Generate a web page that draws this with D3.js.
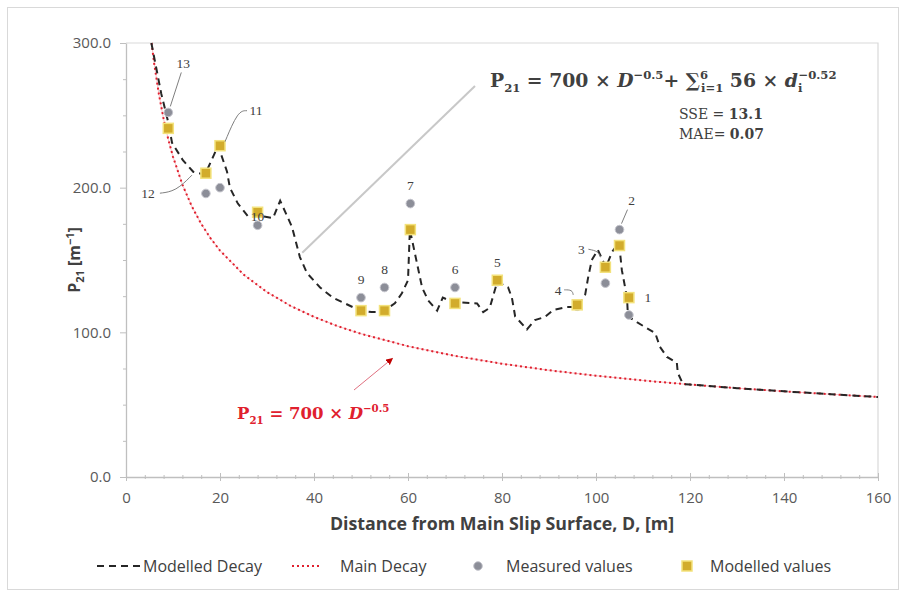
<!DOCTYPE html>
<html><head><meta charset="utf-8">
<script src="https://cdn.jsdelivr.net/npm/d3@7"></script>
<style>body{margin:0;background:#fff}svg{display:block}</style>
</head><body><svg id="c" width="907" height="592"></svg>
<script>
// ---- data ----
const pointIds = [13, 12, 11, 10, 9, 8, 7, 6, 5, 4, 3, 2, 1];
const pointD   = [9, 17, 20, 28, 50, 55, 60.5, 70, 79, 96, 102, 105, 107];
const measured = [252, 196, 200, 174, 124, 131, 189, 131, 135, 118, 134, 171, 112];
const modelled = [241, 210, 229, 183, 115, 115, 171, 120, 136, 119, 145, 160, 124];

// Modelled decay (dashed)
const decayD = [5.4, 7.5, 9, 9.8, 12.1, 14.3, 16.8, 19.6, 21.5, 22.1, 23.8, 26, 27.9, 31.3, 32.8, 35.3, 37, 38.5, 41.3, 44, 46.6, 49.8, 52.3, 54.5, 57.2, 58.7, 60, 60.4, 63, 64.3, 66.2, 67.4, 69.6, 74.7, 76, 77.4, 79, 81.3, 82.1, 82.8, 85.3, 87, 89.1, 90.9, 93.8, 96, 97.7, 98.3, 99.1, 100.4, 102.1, 103.4, 104.9, 105.5, 106.6, 106.8, 108.7, 110.4, 112.6, 113.6, 115.1, 117.2, 117.4, 118.5, 120, 130, 140, 150, 160];
const decayV = [300, 265, 245, 231, 219, 211, 209, 229, 211, 200, 189, 180, 181, 179, 191, 173, 152, 141, 131, 124, 120, 115, 114, 114, 120, 127, 136, 171, 131, 122, 115, 124, 121, 120, 114, 117, 135, 131, 124, 111, 102, 108.5, 110.6, 115.4, 117.5, 117.5, 126, 137.5, 150, 157, 145, 155.5, 162, 143, 124, 111, 107, 103.7, 99.5, 90, 83, 79, 72, 64.3, 63.9, 61.4, 59.2, 57.2, 55.3];

// Main decay (red dotted)
const mainD = [5.44, 6, 7, 8, 9, 10, 12, 14, 16, 18, 20, 25, 30, 35, 40, 45, 50, 60, 70, 80, 90, 100, 110, 120, 130, 140, 150, 160];
const mainV = [300, 285.8, 264.6, 247.5, 233.3, 221.4, 202.1, 187.1, 175, 165, 156.5, 140, 127.8, 118.3, 110.7, 104.3, 99, 90.4, 83.7, 78.3, 73.8, 70, 66.7, 63.9, 61.4, 59.2, 57.2, 55.3];

const xTicks = [0, 20, 40, 60, 80, 100, 120, 140, 160];
const yTicks = [0, 100, 200, 300];
const xTitle = "Distance from Main Slip Surface, D, [m]";
const legendNames = ["Modelled Decay", "Main Decay", "Measured values", "Modelled values"];

// ---- drawing ----
const svg = d3.select("#c");
const x = d3.scaleLinear().domain([0, 160]).range([126, 878]);
const y = d3.scaleLinear().domain([0, 300]).range([477, 43]);
const txt = "#404040", sans = "'Open Sans', Lato, sans-serif", serif = "'DejaVu Serif', 'Liberation Serif', serif";

svg.append("rect").attr("x", 7.5).attr("y", 7.5).attr("width", 891).attr("height", 582)
  .attr("fill", "#fff").attr("stroke", "#d9d9d9");

// plot border (top/right)
svg.append("path").attr("d", `M${x(0)},${y(300)}H${x(160)}V${y(0)}`).attr("fill", "none").attr("stroke", "#d9d9d9").attr("stroke-width", 1.2);

// axes
const gx = svg.append("g").attr("transform", `translate(0,${y(0)})`)
  .call(d3.axisBottom(x).tickValues(xTicks).tickFormat(d3.format("d")).tickSizeInner(4).tickSizeOuter(0).tickPadding(11));
gx.selectAll(".tick line").attr("y1", -4);
const gxm = svg.append("g").attr("transform", `translate(0,${y(0)})`)
  .call(d3.axisBottom(x).tickValues(d3.range(0, 161, 4).filter(v => v % 20)).tickFormat("").tickSizeInner(2).tickSizeOuter(0));
gxm.selectAll(".tick line").attr("y1", -2);
gxm.select(".domain").remove();
const gy = svg.append("g").attr("transform", `translate(${x(0)},0)`)
  .call(d3.axisLeft(y).tickValues(yTicks).tickFormat(d3.format(".1f")).tickSizeInner(6).tickSizeOuter(0).tickPadding(9));
const gym = svg.append("g").attr("transform", `translate(${x(0)},0)`)
  .call(d3.axisLeft(y).tickValues(d3.range(25, 300, 25).filter(v => v % 100)).tickFormat("").tickSizeInner(3).tickSizeOuter(0));
gym.select(".domain").remove();
[gx, gxm, gy, gym].forEach(g => {
  g.selectAll(".domain").attr("stroke", "#bfbfbf").attr("stroke-width", 1.3);
  g.selectAll(".tick line").attr("stroke", "#bfbfbf");
  g.selectAll(".tick text").attr("fill", "#595959").attr("font-family", sans).attr("font-size", 15);
});

// axis titles
svg.append("text").attr("x", 502).attr("y", 530).attr("text-anchor", "middle")
  .attr("font-family", sans).attr("font-weight", "bold").attr("font-size", 17.8).attr("fill", txt).text(xTitle);
const yt = svg.append("text").attr("transform", `translate(80,${(y(0) + y(300)) / 2}) rotate(-90)`).attr("text-anchor", "middle")
  .attr("font-family", sans).attr("font-weight", "bold").attr("font-size", 16).attr("fill", txt);
yt.append("tspan").text("P");
yt.append("tspan").attr("dy", 4).attr("font-size", 11).text("21");
yt.append("tspan").attr("dy", -4).text(" [m");
yt.append("tspan").attr("dy", -6).attr("font-size", 11).text("−1");
yt.append("tspan").attr("dy", 6).text("]");

// lines
const line = d3.line().x(d => x(d[0])).y(d => y(d[1]));
svg.append("path").datum(d3.zip(mainD, mainV)).attr("d", line).attr("fill", "none")
  .attr("stroke", "#f8c0c6").attr("stroke-width", 1);
svg.append("path").datum(d3.zip(mainD, mainV)).attr("d", line).attr("fill", "none")
  .attr("stroke", "#e0202e").attr("stroke-width", 2).attr("stroke-dasharray", "2,3");
svg.append("path").datum(d3.zip(decayD, decayV)).attr("d", line).attr("fill", "none")
  .attr("stroke", "#262626").attr("stroke-width", 2).attr("stroke-dasharray", "7,5");

// markers
const pts = pointIds.map((id, i) => ({ id, d: pointD[i], m: measured[i], p: modelled[i] }));
svg.append("g").selectAll("circle").data(pts).join("circle")
  .attr("cx", d => x(d.d)).attr("cy", d => y(d.m)).attr("r", 4.3)
  .attr("fill", "#8c8e98").attr("stroke", "#c4c4cc").attr("stroke-width", 1);
svg.append("g").selectAll("rect").data(pts).join("rect")
  .attr("x", d => x(d.d) - 5).attr("y", d => y(d.p) - 5).attr("width", 10).attr("height", 10)
  .attr("fill", "#d2ac2c").attr("stroke", "#f3e27c").attr("stroke-width", 1.5);

// point labels (offsets in px from the upper marker)
const labelOff = { 13: [15, -49], 12: [-58, 20], 11: [36, -35], 10: [0, 4], 2: [12, -29], 1: [19, 0], 3: [-24, -18], 4: [-19, -15] };
const leaders = { 13: [[13, -40], [2, -6]], 12: [[-46, 20], [-30, 18], [-14, 2]], 11: [[27, -35], [18, -35], [5, -4]],
  2: [[8, -20], [2, -6]], 3: [[-17, -18], [-7, -16], [-5, -10]], 4: [[-13, -15], [-5, -15], [-4, -10]] };
const lab = svg.append("g");
pts.forEach(d => {
  const px = x(d.d), py = y(Math.max(d.m, d.p));
  const o = labelOff[d.id] || [0, -18];
  lab.append("text").attr("x", px + o[0]).attr("y", py + o[1]).attr("dy", "0.35em").attr("text-anchor", "middle")
    .attr("font-family", "'Liberation Serif', serif").attr("font-size", 13.5).attr("fill", "#404040").text(d.id);
  if (leaders[d.id]) {
    lab.append("path").attr("d", d3.line().curve(d3.curveBasis)(leaders[d.id].map(p => [px + p[0], py + p[1]])))
      .attr("fill", "none").attr("stroke", "#7f7f7f").attr("stroke-width", 1);
  }
});

// equation leader (gray)
svg.append("line").attr("x1", 475).attr("y1", 86).attr("x2", x(37.5)).attr("y2", y(155))
  .attr("stroke", "#c8c8c8").attr("stroke-width", 2);

function rich(g, xx, yy, segs, fs, color, bold) {
  const t = g.append("text").attr("x", xx).attr("y", yy).attr("font-family", serif).attr("font-size", fs)
    .attr("fill", color).attr("font-weight", bold ? "bold" : "normal");
  let cur = 0;
  segs.forEach(s => {
    const shift = s.sub ? fs * 0.28 : s.sup ? -fs * 0.42 : 0;
    const sp = t.append("tspan").attr("dy", shift - cur).text(s.t);
    if (s.sub || s.sup) sp.attr("font-size", fs * 0.62);
    if (s.it) sp.attr("font-style", "italic");
    if (s.dx) sp.attr("dx", s.dx);
    if (s.w) sp.attr("font-weight", s.w);
    cur = shift;
  });
  return t;
}
rich(svg, 490, 87, [
  { t: "P" }, { t: "21", sub: 1 }, { t: " = 700 × " }, { t: "D", it: 1 }, { t: "−0.5", sup: 1 }, { t: "+ " },
  { t: "∑" }, { t: "6", sup: 1 }, { t: "i=1", sub: 1, dx: -7 }, { t: " 56 × " }, { t: "d", it: 1 },
  { t: "i", sub: 1 }, { t: "−0.52", sup: 1, dx: -4 }
], 18.8, "#404040", true);
rich(svg, 679, 119, [{ t: "SSE  = " }, { t: "13.1", w: "bold" }], 14, "#404040", false);
rich(svg, 679, 139, [{ t: "MAE= " }, { t: "0.07", w: "bold" }], 14, "#404040", false);

// red equation + arrow
svg.append("defs").append("marker").attr("id", "ah").attr("viewBox", "0 0 10 10").attr("refX", 9).attr("refY", 5)
  .attr("markerWidth", 7).attr("markerHeight", 7).attr("orient", "auto")
  .append("path").attr("d", "M0,0L10,5L0,10z").attr("fill", "#c00000");
svg.append("line").attr("x1", 354).attr("y1", 390).attr("x2", x(56.7)).attr("y2", y(82))
  .attr("stroke", "#e07080").attr("stroke-width", 1).attr("marker-end", "url(#ah)");
rich(svg, 237, 419, [{ t: "P" }, { t: "21", sub: 1 }, { t: " = 700 × " }, { t: "D", it: 1 }, { t: "−0.5", sup: 1 }], 16.5, "#e0202e", true);

// legend
const ly = 566;
const lg = svg.append("g").attr("font-family", sans).attr("font-size", 16).attr("fill", txt);
lg.append("line").attr("x1", 97).attr("x2", 141).attr("y1", ly).attr("y2", ly).attr("stroke", "#262626").attr("stroke-width", 2).attr("stroke-dasharray", "7,5");
lg.append("text").attr("x", 143).attr("y", ly).attr("dy", "0.35em").text(legendNames[0]);
lg.append("line").attr("x1", 292).attr("x2", 322).attr("y1", ly).attr("y2", ly).attr("stroke", "#e0202e").attr("stroke-width", 2).attr("stroke-dasharray", "2,3");
lg.append("text").attr("x", 340).attr("y", ly).attr("dy", "0.35em").text(legendNames[1]);
lg.append("circle").attr("cx", 478).attr("cy", ly).attr("r", 4.3).attr("fill", "#8c8e98").attr("stroke", "#c4c4cc");
lg.append("text").attr("x", 506).attr("y", ly).attr("dy", "0.35em").text(legendNames[2]);
lg.append("rect").attr("x", 682).attr("y", ly - 5).attr("width", 10).attr("height", 10).attr("fill", "#d2ac2c").attr("stroke", "#f3e27c").attr("stroke-width", 1.5);
lg.append("text").attr("x", 710).attr("y", ly).attr("dy", "0.35em").text(legendNames[3]);
</script></body></html>
